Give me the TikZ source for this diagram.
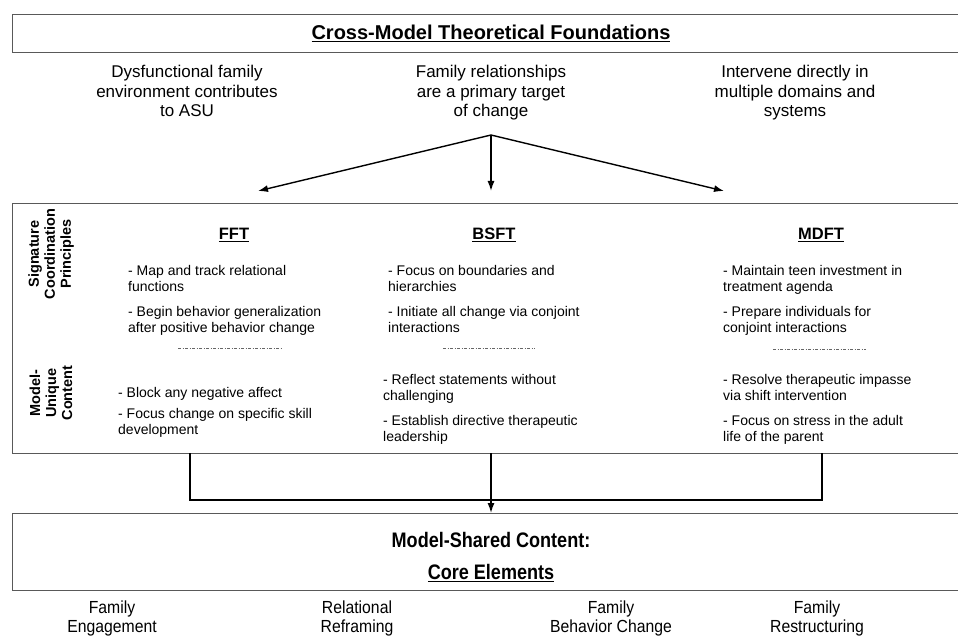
\documentclass[tikz,border=0pt]{standalone}
\usepackage{fontspec}
\setmainfont{Liberation Sans}
\newfontfamily\narrowfont[FakeStretch=0.86]{Liberation Sans}
\newfontfamily\semifont[FakeStretch=0.9]{Liberation Sans}
\usetikzlibrary{arrows.meta}
\begin{document}
\begin{tikzpicture}[x=1pt,y=-1pt,
 box/.style={draw=black!65, line width=1.2pt, inner sep=0},
 conn/.style={line width=1.4pt},
 arr/.style={conn,-{Latex[length=10pt,width=7pt]}},
 toptxt/.style={align=center, anchor=north, font=\fontsize{17}{19.5}\selectfont, inner sep=0},
 body/.style={align=left, anchor=north west, font=\fontsize{14}{16}\selectfont, inner sep=0},
 head/.style={font=\bfseries\fontsize{16.5}{18}\selectfont, inner sep=0},
 title/.style={font=\bfseries\fontsize{20}{22}\selectfont, inner sep=0},
 side/.style={rotate=90, align=center, font=\bfseries\fontsize{14.5}{16}\selectfont, inner sep=0},
 sep/.style={draw=black!60, line width=0.7pt, dash pattern=on 3pt off 1.5pt on 1pt off 1.5pt},
 core/.style={align=center, anchor=north, font=\semifont\fontsize{17.5}{19}\selectfont, inner sep=0},
 corehead/.style={font=\narrowfont\bfseries\fontsize{21}{22}\selectfont, inner sep=0}
]
\useasboundingbox (0,0) rectangle (958,639);

% top box
\node (topbox) [box, anchor=north west, minimum width=952, minimum height=38] at (12,14) {};
\node (title) [title] at (491,33) {\underline{Cross-Model Theoretical Foundations}};

\node (f1) [toptxt] at (187,65) {Dysfunctional family\\environment contributes\\to ASU};
\node (f2) [toptxt] at (491,65) {Family relationships\\are a primary target\\of change};
\node (f3) [toptxt] at (795,65) {Intervene directly in\\multiple domains and\\systems};

\coordinate (apex) at (491,135);
\coordinate (tL) at (258,191);
\coordinate (tC) at (491,191);
\coordinate (tR) at (724,191);
\draw[arr] (apex) -- (tL);
\draw[arr] (apex) -- (tC);
\draw[arr] (apex) -- (tR);

% middle box
\node (midbox) [box, anchor=north west, minimum width=952, minimum height=250] at (12,203) {};

\node (sideA) [side] at (51,254) {Signature\\Coordination\\Principles};
\node (sideB) [side] at (51,393) {Model-\\Unique\\Content};

\node (fft) [head] at (234,235) {\underline{FFT}};
\node (bsft) [head] at (494,235) {\underline{BSFT}};
\node (mdft) [head] at (821,235) {\underline{MDFT}};

\node (fftA) [body] at (128,265.5) {- Map and track relational\\functions\\[9pt]- Begin behavior generalization\\after positive behavior change};
\node (bsftA) [body] at (388,265.5) {- Focus on boundaries and\\hierarchies\\[9pt]- Initiate all change via conjoint\\interactions};
\node (mdftA) [body] at (723,265.5) {- Maintain teen investment in\\treatment agenda\\[9pt]- Prepare individuals for\\conjoint interactions};

\coordinate (d1a) at (178,348); \coordinate (d1b) at (283,348);
\coordinate (d2a) at (443,348); \coordinate (d2b) at (535,348);
\coordinate (d3a) at (773,349); \coordinate (d3b) at (866,349);
\draw[sep] (d1a) -- (d1b);
\draw[sep] (d2a) -- (d2b);
\draw[sep] (d3a) -- (d3b);

\node (fftB) [body] at (118,387.5) {- Block any negative affect\\[5pt]- Focus change on specific skill\\development};
\node (bsftB) [body] at (383,374.5) {- Reflect statements without\\challenging\\[9pt]- Establish directive therapeutic\\leadership};
\node (mdftB) [body] at (723,374.5) {- Resolve therapeutic impasse\\via shift intervention\\[9pt]- Focus on stress in the adult\\life of the parent};

% bottom connector
\coordinate (bL) at (190,453);
\coordinate (bLc) at (190,500);
\coordinate (bR) at (822,453);
\coordinate (bRc) at (822,500);
\coordinate (bC) at (491,453);
\draw[conn] (bL) -- (bLc) -- (bRc) -- (bR);

% bottom box
\node (botbox) [box, anchor=north west, minimum width=952, minimum height=77] at (12,513) {};
\draw[arr] (bC) -- (botbox.north -| bC);
\node (shared) [corehead] at (491,540) {Model-Shared Content:};
\node (coreel) [corehead] at (491,573) {\underline{Core Elements}};

\node (c1) [core] at (112,601) {Family\\Engagement};
\node (c2) [core] at (357,601) {Relational\\Reframing};
\node (c3) [core] at (611,601) {Family\\Behavior Change};
\node (c4) [core] at (817,601) {Family\\Restructuring};
\end{tikzpicture}
\end{document}
